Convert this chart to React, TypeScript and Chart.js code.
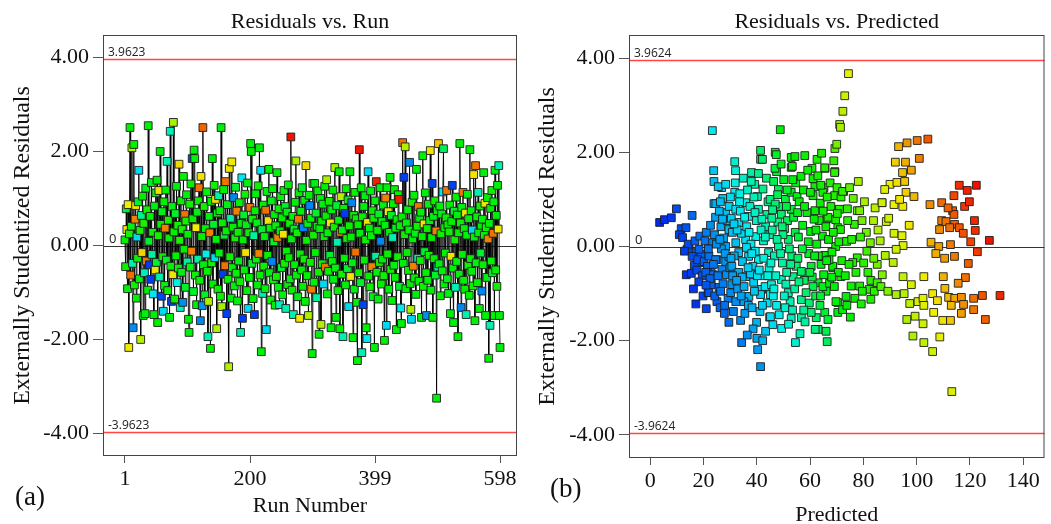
import React, { useEffect, useRef } from "react";
import { Chart, registerables } from "chart.js";
Chart.register(...registerables);

// ---------- Panel (a): residuals in run order ----------
const runResiduals: number[] = [
  0.12, -0.45, 0.78, 0.34, -0.92, 0.87, -2.17, 0.25, 2.51, -0.63,
  0.41, 2.08, -0.38, -1.75, 2.15, -0.84, 0.56, 0.85, -1.12, 0.18,
  -0.27, 0.93, 1.60, -0.71, 0.32, -2.00, 0.64, -0.15, 1.05, -1.49,
  0.47, -0.58, -1.45, 1.22, -0.33, 0.76, -0.95, 2.55, 0.09, -0.41,
  0.62, -0.72, 1.34, -0.19, 0.28, -1.03, -1.47, 0.84, -0.52, 1.12,
  -0.36, 1.39, -1.64, 0.21, 1.17, -0.67, 2.00, 0.45, -1.08, 0.72,
  -0.24, -1.40, 0.93, -0.85, 0.37, 1.18, -0.31, 1.79, -0.96, 0.54,
  0.16, -1.53, 2.43, -0.44, -1.19, 0.83, -0.62, 2.62, 0.29, -1.14,
  0.68, -0.22, 1.26, -0.79, 0.43, -0.48, 1.73, 0.11, -1.32, 0.95,
  -0.57, 0.34, -1.21, 1.47, -0.08, 0.66, -0.89, 0.52, 1.08, -0.35,
  0.24, -1.57, -1.85, 0.88, -0.46, 1.31, -0.12, 1.85, 0.57, -0.98,
  2.03, 1.85, -0.63, 0.38, -1.26, 0.71, -0.29, 0.95, 1.23, -0.74,
  -1.60, 1.47, 0.19, -1.28, 2.51, -0.41, 0.83, -1.05, 0.36, -0.18,
  1.14, -0.55, -1.94, -1.19, 0.62, 0.27, -2.19, 0.94, -0.37, 1.85,
  -0.82, 0.45, 1.28, -0.26, 0.98, 0.13, -1.77, 0.69, -0.93, 1.06,
  -0.16, 0.74, -1.08, 2.51, -1.30, 0.48, -0.61, 1.19, 0.22, -0.43,
  1.36, 0.31, -1.45, 0.87, -0.72, -2.58, 1.64, -0.24, 0.58, -1.12,
  1.78, -0.47, 0.39, 1.02, -0.86, 0.16, 1.24, -0.59, 0.73, -1.18,
  0.28, -0.33, 0.91, -0.77, -1.85, 0.47, 1.44, -1.55, 0.12, 0.65,
  -0.52, 1.09, -0.15, 0.44, -0.96, 1.33, -1.34, 0.27, -0.68, 0.81,
  2.17, 2.00, -0.38, 0.56, -1.13, 0.21, -1.47, 0.74, 1.10, -0.29,
  0.48, -0.84, 1.27, -0.17, 2.08, -0.63, 1.60, -2.26, 0.34, -1.02,
  0.86, -0.44, 0.19, -0.92, 0.75, -1.79, 1.15, -0.21, 0.53, 1.62,
  -0.58, 0.37, -1.16, 0.95, -0.34, 1.21, -0.73, 0.08, 0.66, -1.27,
  0.42, -0.66, 1.55, 0.17, -0.89, 0.78, -1.26, 0.31, 1.04, -0.47,
  0.59, -1.05, 0.24, 1.17, -0.38, 0.83, -1.34, -0.12, 0.71, -0.83,
  1.29, -0.26, 0.47, -0.71, 2.31, 0.14, -0.95, 0.62, -1.47, 0.35,
  -0.41, 0.92, 1.80, -0.63, 0.27, -1.09, 0.56, 1.12, -1.55, -0.18,
  0.73, -0.52, 1.23, -0.87, 0.38, -0.29, 0.96, -1.19, 1.70, 0.11,
  -0.64, 0.47, -1.49, 1.07, 0.85, -0.36, 0.58, -0.93, -2.30, 1.32,
  0.22, -0.78, 1.32, -0.15, 0.69, -1.11, 0.41, 1.16, -0.57, -1.89,
  0.36, 1.00, -1.68, 0.52, -0.39, 0.88, -0.82, 0.19, 1.26, -0.46,
  0.63, 1.40, -1.03, 0.27, -0.55, 0.94, -0.21, 0.48, -1.75, 0.76,
  -0.34, 1.18, -0.72, 0.39, 1.66, -0.48, -1.53, 0.85, 0.07, -0.96,
  0.54, 1.57, -1.77, 0.28, 1.04, -0.61, 0.33, -1.94, 0.79, -0.27,
  0.68, -0.84, 1.21, 0.15, -0.49, 0.97, -1.30, 0.42, 1.57, -0.66,
  0.18, 0.91, -0.37, -1.96, 0.64, -0.93, 1.13, -0.14, 0.57, -1.21,
  -2.45, 0.44, -0.58, 2.04, 0.26, -0.79, 1.23, -2.28, 0.61, -1.26,
  0.83, -0.31, 1.06, 0.12, -1.75, -1.98, 0.49, 1.57, -0.65, 0.37,
  -0.88, 1.16, 0.21, -0.45, 0.74, -1.09, 0.58, -2.17, 0.95, -0.23,
  1.36, -0.57, 0.32, -1.14, 0.67, -0.36, 1.23, 0.09, -0.82, 0.51,
  -0.29, 0.86, -0.64, -2.02, 0.43, 1.01, -1.70, 1.23, -0.18, 0.72,
  -0.93, 0.28, 1.45, -0.51, 0.64, -1.17, 0.17, 0.89, -0.42, 1.19,
  -0.68, 0.37, -1.79, 0.55, -0.24, 1.08, 0.98, -0.87, 0.42, -1.33,
  -1.66, 0.61, 2.19, -0.38, 1.45, 0.23, 2.10, -0.92, 0.48, -0.15,
  0.76, -0.53, 0.33, 1.77, -0.81, -1.36, -1.57, 0.92, 0.14, -0.44,
  1.07, -0.69, 0.26, -1.04, 1.62, 0.41, -0.27, 0.83, -0.76, 0.58,
  -0.32, 0.71, -1.53, 0.19, 1.91, -0.87, 0.46, -0.13, 1.12, -0.58,
  -1.49, 0.36, -0.74, 0.88, -0.21, 0.53, 2.02, -0.95, 0.17, 1.32,
  -1.53, 0.62, -0.28, 0.95, -0.63, 0.31, -3.25, 0.74, -0.46, 2.17,
  -0.39, 0.84, -1.07, 0.25, 0.67, -0.54, 1.14, 2.06, -0.82, 0.38,
  -0.16, 0.59, 1.17, -0.71, 0.44, -1.02, 0.29, 0.86, -1.45, -0.23,
  0.51, 1.28, -0.48, -1.64, 0.73, 0.12, -0.89, 1.03, -0.34, 0.65,
  -1.94, 0.27, -0.61, 2.17, 0.48, -1.32, 0.81, -0.19, 1.13, -0.74,
  0.36, -0.93, 0.69, -1.47, 0.22, 1.09, -0.42, 0.57, -1.06, 2.04,
  -0.28, 0.74, -0.55, 0.33, -0.86, 1.51, 0.18, -1.60, 1.70, -0.37,
  0.61, -0.79, 1.13, 0.27, -1.34, 0.84, -0.16, 0.43, -0.97, 0.56,
  -0.41, 1.55, 0.22, 0.90, -1.49, 0.38, -0.68, 1.02, 0.14, -2.40,
  0.47, -1.70, 0.79, -0.33, 1.17, -0.58, 0.26, 0.93, -1.49, 1.60,
  -0.52, 0.64, -0.87, 1.28, 0.35, 1.70, -1.49, -2.17,
];

// actual response of each run (drives the point colour)
const runActual: number[] = [
  66, 70, 58, 100, 62, 98, 99, 72, 64, 115,
  60, 88, 47, 25, 66, 70, 112, 100, 64, 36,
  68, 58, 36, 62, 72, 88, 50, 102, 66, 63,
  74, 45, 62, 60, 114, 70, 66, 64, 58, 12,
  66, 12, 60, 48, 70, 38, 64, 62, 100, 68,
  58, 64, 66, 72, 100, 46, 62, 68, 14, 60,
  70, 36, 66, 60, 112, 64, 58, 46, 68, 72,
  64, 62, 45, 68, 13, 60, 100, 86, 66, 70,
  58, 66, 62, 40, 70, 64, 101, 74, 46, 68,
  60, 72, 25, 64, 66, 114, 58, 70, 62, 48,
  66, 64, 62, 70, 60, 68, 112, 14, 66, 58,
  62, 64, 70, 98, 66, 60, 48, 68, 114, 64,
  24, 100, 66, 26, 116, 62, 70, 58, 66, 40,
  64, 68, 46, 87, 60, 112, 64, 66, 72, 62,
  66, 58, 70, 36, 101, 64, 88, 62, 68, 46,
  60, 64, 70, 62, 86, 68, 12, 66, 58, 114,
  114, 66, 13, 60, 64, 88, 100, 70, 48, 62,
  99, 64, 66, 24, 62, 70, 58, 66, 112, 64,
  68, 60, 64, 70, 46, 62, 38, 12, 66, 58,
  64, 70, 100, 62, 66, 60, 36, 68, 64, 114,
  62, 66, 58, 70, 64, 48, 12, 66, 62, 68,
  60, 64, 70, 112, 62, 66, 37, 64, 58, 46,
  66, 70, 62, 64, 114, 36, 60, 68, 100, 64,
  62, 66, 70, 60, 24, 64, 68, 58, 66, 62,
  64, 70, 62, 112, 60, 66, 45, 68, 64, 58,
  66, 62, 100, 64, 70, 58, 46, 66, 62, 68,
  64, 66, 70, 60, 128, 62, 68, 64, 46, 58,
  66, 62, 87, 64, 70, 60, 114, 66, 100, 68,
  62, 64, 58, 66, 24, 70, 62, 64, 101, 68,
  66, 60, 87, 64, 24, 68, 62, 112, 64, 62,
  70, 64, 62, 66, 58, 48, 64, 66, 70, 62,
  64, 62, 88, 66, 70, 60, 36, 68, 64, 114,
  66, 87, 62, 64, 68, 70, 58, 100, 64, 62,
  64, 66, 60, 70, 86, 62, 64, 58, 46, 68,
  62, 64, 66, 112, 88, 70, 60, 46, 64, 66,
  12, 64, 66, 70, 58, 62, 36, 68, 64, 100,
  66, 24, 62, 64, 70, 60, 68, 114, 66, 62,
  64, 66, 70, 128, 62, 58, 64, 46, 68, 13,
  62, 66, 60, 70, 64, 38, 100, 36, 66, 64,
  68, 62, 64, 112, 66, 60, 70, 64, 62, 48,
  126, 64, 66, 62, 58, 70, 64, 24, 66, 62,
  66, 60, 70, 64, 62, 112, 36, 64, 68, 100,
  62, 66, 64, 70, 58, 64, 46, 66, 62, 68,
  64, 60, 62, 66, 70, 64, 127, 58, 66, 38,
  64, 66, 114, 62, 12, 70, 88, 64, 60, 66,
  62, 68, 64, 24, 66, 87, 36, 70, 62, 112,
  64, 66, 60, 62, 64, 70, 46, 114, 66, 62,
  68, 64, 62, 66, 64, 70, 100, 58, 62, 66,
  25, 66, 64, 62, 70, 60, 100, 64, 66, 13,
  64, 62, 66, 70, 58, 112, 64, 66, 48, 104,
  62, 64, 66, 70, 60, 64, 38, 54, 62, 66,
  64, 68, 114, 62, 66, 60, 70, 64, 62, 100,
  66, 13, 64, 62, 58, 70, 46, 66, 64, 62,
  64, 66, 62, 64, 70, 24, 60, 66, 114, 64,
  62, 66, 100, 46, 64, 60, 70, 62, 66, 64,
  66, 62, 64, 36, 70, 100, 66, 64, 114, 60,
  64, 66, 46, 62, 64, 70, 58, 66, 24, 62,
  66, 64, 62, 100, 64, 70, 60, 66, 112, 64,
  62, 46, 66, 64, 70, 58, 114, 62, 64, 64,
  66, 62, 70, 64, 100, 46, 64, 62,
];

const runTicks = [1, 200, 399, 598];
const runLimit = 3.9623;

// ---------- Panel (b): residuals against predicted ----------
const predicted: number[] = [
  3.5, 5.3, 7.9, 9.8, 15.7, 11.6, 13.4, 10.9, 12.1, 13.8,
  13.5, 15.4, 14.6, 17.2, 19.1, 18.3, 15.7, 19.1, 16.5, 17.8,
  14.2, 16.8, 18.6, 12.8, 17.5, 19.5, 18.2, 16.2, 19.8, 17.1,
  21, 21.7, 25, 22.8, 25.8, 22.8, 20.2, 22, 25, 28.3,
  21, 23.2, 28.3, 21.4, 24.5, 26.9, 29.5, 22, 22.8, 27.3,
  23.9, 26.8, 23.9, 27.2, 24.5, 26.5, 29.5, 28.3, 23.3, 23.8,
  25.5, 28.3, 24.6, 20.5, 21.8, 23.5, 24.2, 26.2, 27.8, 29.2,
  20.8, 22.4, 25.4, 26.7, 27.5, 28.9, 29.6, 25.9, 22.6, 24.1,
  29.5, 26.4, 28.6, 23.7, 27.9, 29.9, 20.9, 24.8, 26.1, 28.1,
  33.9, 34.3, 39.9, 40, 40.3, 41.4, 42.2, 43.3, 37, 35.1,
  32.1, 30.2, 30.6, 30.6, 33.2, 35.8, 38.8, 41.8, 41.4, 45.1,
  31.7, 32, 31.7, 38, 41.4, 41.4, 39.2, 40.2, 35.8, 32.1,
  36.9, 33.2, 40.6, 43.3, 39.6, 35.8, 32.1, 33.2, 36.9, 40.6,
  44.4, 42.1, 40.6, 30.8, 31.5, 34.2, 36.2, 37.8, 38.5, 39.8,
  42.5, 43.8, 44.6, 31.2, 32.8, 34.6, 35.5, 36.8, 38.2, 39.1,
  41.2, 42.8, 43.9, 44.8, 30.4, 31.9, 33.6, 34.9, 36.5, 37.4,
  38.9, 42.3, 43.6, 44.2, 35.2, 37.6, 40.2, 42.6, 33.8, 36.1,
  30.9, 32.6, 34.5, 37.1, 39.4, 41.6, 43.1, 44.9, 38.6, 36.4,
  46, 49.3, 54.5, 52.9, 52.5, 51.8, 47.4, 45.1, 45.5, 49.2,
  53.6, 45, 46.3, 47.4, 46.9, 52.9, 52.9, 48.1, 50.7, 52.9,
  49.2, 48.1, 51.8, 54.4, 48.8, 47.3, 54.3, 53.3, 46.8, 52.9,
  55.1, 45.8, 46.6, 47.9, 49.6, 50.4, 51.2, 53.1, 54.2, 45.6,
  47.1, 48.6, 50.1, 51.5, 52.2, 53.8, 54.8, 46.2, 48.4, 50.6,
  51.9, 53.4, 49.8, 47.6, 50.9, 54.6, 45.3, 46.9, 49.1, 51.4,
  58, 60.7, 65.6, 69.3, 56.6, 61.1, 61.8, 65.2, 69.2, 61.1,
  61.8, 66.3, 70.4, 65.5, 69.2, 64.8, 64, 71, 66.7, 69.6,
  71.4, 69.6, 65.5, 68.5, 63, 66, 70.4, 70.4, 65.5, 66.7,
  63, 66, 66.4, 61.9, 62.3, 60.4, 56.7, 56.7, 56.7, 60.4,
  64.1, 68.5, 71.5, 69.7, 64.8, 61.1, 58.5, 55.6, 57.2, 58.8,
  59.5, 60.2, 62.5, 63.4, 64.6, 66.9, 67.8, 68.2, 70.8, 71.9,
  55.9, 57.5, 59.1, 62.6, 63.8, 66.4, 67.5, 68.9, 70.1, 71.6,
  55.4, 57.8, 59.7, 62.1, 63.7, 65.1, 67.3, 69.1, 58.1, 60.8,
  56.2, 59.3, 61.5, 63.1, 65.9, 67.1, 68.7, 70.6, 62.9, 57.1,
  69.3, 70, 71.1, 71.4, 72.3, 73, 74.4, 72.6, 72.2, 64.3,
  77.7, 74, 76.6, 73.7, 78.6, 81.1, 82.6, 77.7, 76, 88.2,
  85.2, 87.1, 82.8, 85.2, 78.6, 82.2, 75.4, 73.5, 79.6, 82.8,
  72.2, 83.8, 74.8, 76.2, 78.1, 79.5, 80.4, 75.6, 77.2, 80.1,
  81.7, 83.9, 86.3, 73.2, 74.6, 76.8, 79.2, 84.1, 86.6, 74.1,
  88.6, 87, 85.5, 84.4, 75.1, 73.8, 78.9, 81.3,
  92, 95.8, 94.7, 90, 92.6, 95.5, 96, 99, 101, 98,
  88, 87, 91.5, 94.8, 93.2, 96.4, 91.5, 94.5, 94.9, 92.3,
  94.9, 98, 92.3, 95.3, 97.4, 100.5, 102.4, 102.7, 102.7, 99.4,
  102.4, 102.7, 91.2, 89.5, 93.6, 97.2, 100.2, 89.2, 96.3, 98.6,
  105, 109.4, 116, 119, 122.4, 114, 118, 113.5, 114, 109.4,
  111, 114.2, 108.6, 112.4, 116, 117.5, 121.7, 122, 127.3, 120.3,
  122.8, 105.4, 108.3, 107.2, 112.7, 110.5, 114.2, 119.4, 110, 118.3,
  106, 110.6, 112, 114.3, 116.8, 117.6, 121.4, 124.7, 131.3, 121.4,
  125.8, 116.8, 106.4, 109.8, 112.7, 108.7, 106, 113.2, 104.2, 113,
  107.8, 119.8, 111.8, 115.6,
  26.3, 27.1, 30.1, 31.4, 33.5, 35.4, 37.9, 39.3, 41.9, 43.2,
  45.9, 47.8, 49.5, 51.1, 53.5, 55.3, 57.9, 60.1, 62.2, 64.9,
  30.3, 32.4, 34.1, 36.7, 38.1, 40.9, 42.1, 44.1, 46.4, 48.9,
  50.3, 52.7, 55.8, 57.6, 59.9, 61.7, 63.9, 66.2, 68.1, 70.2,
];

const predictedResiduals: number[] = [
  0.51, 0.57, 0.61, 0.8, 0.66, 0.38, 0.4, 0.25, 0.19, -0.06,
  -0.6, -0.57, -0.06, -0.13, -0.17, -0.06, -0.21, -0.34, -0.4, -0.28,
  0.05, 0.12, 0.22, -0.1, -0.5, -0.62, -0.75, -0.9, -1.05, -1.22,
  -1.32, -0.98, -1.17, -0.76, -0.87, -0.45, -0.32, -0.2, -0.28, -0.32,
  0.3, 0.08, 0, -0.42, -0.28, -0.49, -0.21, -0.98, -0.81, -0.79,
  1.38, 1.25, 0.91, 1.02, 0.62, 0.42, 0.36, 0.72, 2.46, 1.61,
  1.27, 1.32, 0.91, 0.12, -0.05, -0.6, -1.05, -1.3, -1.42, -1.1,
  -0.55, -0.68, -0.62, -0.05, 0.18, 0.55, 0.85, 0.75, 0.45, 0.25,
  -1.61, -0.95, -0.6, -0.38, -1.25, -0.45, -0.82, 0.05, 0.15, -0.15,
  -1.57, -2.04, -1.61, -1.95, -2.19, -2.55, -2, -1.8, -1.06, -1.17,
  -1.17, -0.98, -0.81, -0.42, -0.55, -0.64, -0.76, -0.91, -1.02, -1.02,
  1.8, 1.61, 1.15, 1.57, 2.04, 1.85, 1.32, 1.06, 0.93, 0.79,
  0.64, 0.51, 0.79, 0.42, 0.21, 0.15, 0.08, -0.13, -0.21, -0.28,
  -0.13, 1.85, 1.55, 0.3, -0.2, 0.28, 0.42, 0.05, -0.42, 0.55,
  0.12, 0.68, -0.45, -1.38, -0.9, -0.32, -1.42, -1.25, -1.3, -0.95,
  -1.38, -0.62, -1.2, -1.5, 0.6, 1.35, 1.12, 1.45, 1.2, 0.85,
  1.05, 1.22, 1.45, 0.95, -0.85, -0.58, -0.62, -0.25, 0.75, -0.02,
  -0.62, 0.35, -0.65, 0.3, -0.1, 0.35, -0.85, 0.25, -1.75, -1.88,
  -1.66, -1.74, -2.04, -1.53, -1.17, -0.98, -1.25, -1.49, -0.81, -0.7,
  -0.64, 1, 1.38, 1.59, 2, 1.89, 1.68, 1.21, 1, 0.79,
  0.68, 0, 0.15, 0.3, 2.48, 1.95, 1.91, 1.7, 1.66, 1.15,
  1.06, 0.35, -0.2, 0.52, -0.35, 0.38, -0.55, -0.2, -0.9, 0.6,
  -0.62, 0.85, 1.42, 0.55, -0.05, 0.62, -0.42, -1.05, -1.45, -1.3,
  -1.65, -1.35, 0.25, 0.15, -0.8, 1.35, -0.35, 0.9, 1.75, 1.2,
  1.93, 1.66, 1.66, 1.59, 1.49, 1.44, 1.27, 1.25, 1.08, 1.08,
  0.76, 0.59, 0.4, 1.67, 1.57, 1.15, 1.3, 0.79, 0.62, 0.57,
  0.36, 0, -0.19, -0.45, -0.77, -0.95, -1.4, -1.19, -1.4, -1.55,
  -1.76, -1.8, -2.02, -1.76, -1.51, -1.4, -1.51, -1.13, -0.53, -0.42,
  -0.38, -0.42, -0.64, -1.17, -0.85, -0.85, -0.98, 0.2, 0.45, 0.72,
  -0.15, 0.32, 0.05, 0.55, 0.22, 0.15, 0.85, -0.12, 0.1, -0.3,
  0.95, 1.2, 1.62, 1.85, 0.92, 1.05, 1.35, 1.82, 1.25, 1.05,
  -0.25, -0.72, -1.2, -1.05, -1.25, -0.6, -0.78, -0.85, -1.6, -0.65,
  -1.85, 0.1, 0.58, -0.2, 0.42, -0.28, 0.3, -0.55, 1.5, -0.05,
  2.08, 2.17, 2.59, 2.53, 2.87, 3.2, 3.67, 1.17, 1.17, 1.98,
  0.76, 0.8, 0.47, 0.11, 0.76, 0.3, 0.08, -0.24, -0.34, -0.19,
  -0.38, -0.6, -0.72, -0.77, -0.84, -0.91, -0.84, -1.06, -0.95, -1.12,
  -1.34, 0.55, 1.25, 1.02, 1.38, 0.55, 0.95, 0.15, -0.55, -0.35,
  -0.55, -0.25, 0.12, -0.62, -0.38, -1.1, -1.22, -0.95, -0.85, 0.55,
  0.53, 0.93, 0.35, 0.82, -1.5, -1.25, 0.2, -0.1,
  1.79, 1.79, 1.57, 1.32, 1.36, 1.38, 1.15, 1.06, 1.87, 1.62,
  1.21, 0.93, 0.89, 0.85, 2.12, 2.2, 0.28, 0.23, 0.02, -0.06,
  -0.64, -0.81, -1.02, -1, -1.21, -1.17, -1.1, -1.25, -0.64, -1.48,
  -1.64, -2.04, -0.34, 0.6, 1, 0.45, 2.25, -0.95, -1.55, -1.9,
  0.89, 0.93, 1.3, 1.19, 1.3, 1.08, 0.85, 0.76, 0.68, 0.55,
  0.53, 0.47, 0.36, 0.4, 0.4, 0.28, 0.55, 0.34, 0.13, 0.1,
  -0.11, 0.09, 0, -0.15, 0.04, -0.25, -0.21, -0.36, -0.64, -0.66,
  -1, -0.89, -1.08, -1.1, -1.08, -1.23, -1.1, -1.04, -1.04, -1.34,
  -1.55, -1.42, -1.4, -1.57, -1.57, -1.92, -2.23, -3.08, 2.28, -1.25,
  -1.15, 0.95, 0.82, -0.78,
  0.95, 0.58, 1.05, 0.48, 0.95, 0.62, 1.38, 0.72, 0.58, 0.2,
  0.78, 1.1, 0.42, 0.85, 1.42, 0.72, 0.85, 1.15, 0.35, 0.75,
  -0.25, -0.72, -1.05, -0.45, -0.15, -0.5, -1.25, -0.62, -0.9, -0.15,
  -1.05, -0.38, -0.75, -1.35, -0.55, -0.2, -1.05, -0.3, -0.65, 0.7,
];

const predictedTicks = [0, 20, 40, 60, 80, 100, 120, 140];
const predictedLimit = 3.9624;
const residualTicks = [-4, -2, 0, 2, 4];
// residual -> response units, used to colour panel (b) by actual response
const residualScale = 6;

// colour scale: response value -> hue (blue ... red)
const hueStops: [number, number][] = [
  [0, 235], [12, 225], [25, 205], [38, 182], [50, 155], [60, 125],
  [80, 108], [85, 80], [100, 57], [112, 32], [128, 5], [140, 0],
];

function colorFor(v: number): string {
  let h = hueStops[0][1];
  if (v >= hueStops[hueStops.length - 1][0]) h = hueStops[hueStops.length - 1][1];
  else {
    for (let i = 0; i < hueStops.length - 1; i++) {
      const [v0, h0] = hueStops[i];
      const [v1, h1] = hueStops[i + 1];
      if (v >= v0 && v <= v1) {
        h = h0 + ((h1 - h0) * (v - v0)) / (v1 - v0);
        break;
      }
    }
  }
  return `hsl(${h.toFixed(1)}, 100%, 47%)`;
}

const SERIF = "'Liberation Serif', 'Times New Roman', serif";
const SANS = "'Open Sans', 'DejaVu Sans', sans-serif";

type Spec = {
  points: { x: number; y: number }[];
  colors: string[];
  showLine: boolean;
  xMin: number;
  xMax: number;
  yLim: number;
  xTicks: number[];
  limit: number;
  padRight: number;
  xHeight: number;
  yWidth: number;
  title: string;
  xTitle: string;
  xTitleBaseline: number;
  panel: string;
  panelX: number;
  panelBaseline: number;
  yTitleX: number;
};

function decor(spec: Spec) {
  return {
    id: "decor",
    beforeDatasetsDraw(chart: any) {
      const { ctx, chartArea: a, scales } = chart;
      const ys = scales.y;
      ctx.save();
      const y0 = Math.round(ys.getPixelForValue(0)) + 0.5;
      ctx.strokeStyle = "#333";
      ctx.lineWidth = 1;
      ctx.beginPath();
      ctx.moveTo(a.left, y0);
      ctx.lineTo(a.right, y0);
      ctx.stroke();
      const yTop = Math.round(ys.getPixelForValue(spec.limit)) + 0.5;
      const yBot = Math.round(ys.getPixelForValue(-spec.limit)) + 0.5;
      ctx.strokeStyle = "#ff4545";
      ctx.lineWidth = 1.3;
      for (const yy of [yTop, yBot]) {
        ctx.beginPath();
        ctx.moveTo(a.left, yy);
        ctx.lineTo(a.right, yy);
        ctx.stroke();
      }
      ctx.fillStyle = "#222";
      ctx.font = `12px ${SANS}`;
      ctx.textAlign = "left";
      ctx.textBaseline = "alphabetic";
      ctx.fillText(spec.limit.toFixed(4), a.left + 5, yTop - 4);
      ctx.fillText((-spec.limit).toFixed(4), a.left + 5, yBot - 4);
      ctx.font = `13px ${SANS}`;
      ctx.fillText("0", a.left + 6, y0 - 4);
      ctx.restore();
    },
    afterDraw(chart: any) {
      const { ctx, chartArea: a } = chart;
      ctx.save();
      ctx.strokeStyle = "#444";
      ctx.lineWidth = 1;
      ctx.strokeRect(a.left + 0.5, a.top + 0.5, a.right - a.left - 1, a.bottom - a.top - 1);
      const cx = (a.left + a.right) / 2;
      ctx.fillStyle = "#111";
      ctx.textAlign = "center";
      ctx.textBaseline = "alphabetic";
      ctx.font = `22px ${SERIF}`;
      ctx.fillText(spec.title, cx, 28);
      ctx.fillText(spec.xTitle, cx, spec.xTitleBaseline);
      ctx.save();
      ctx.translate(spec.yTitleX, (a.top + a.bottom) / 2);
      ctx.rotate(-Math.PI / 2);
      ctx.textBaseline = "middle";
      ctx.font = `24px ${SERIF}`;
      ctx.fillText("Externally Studentized Residuals", 0, 0);
      ctx.restore();
      ctx.textAlign = "left";
      ctx.font = `27px ${SERIF}`;
      ctx.fillText(spec.panel, spec.panelX, spec.panelBaseline);
      ctx.restore();
    },
  };
}

function buildChart(canvas: HTMLCanvasElement, spec: Spec) {
  const tickFont = { family: SERIF, size: 22 };
  return new Chart(canvas, {
    type: "scatter",
    data: {
      datasets: [
        {
          data: spec.points,
          showLine: spec.showLine,
          borderColor: "rgba(0,0,0,0.9)",
          borderWidth: 1,
          pointBackgroundColor: spec.colors,
          pointBorderColor: "rgba(30,30,30,0.9)",
          pointBorderWidth: 1,
          pointStyle: "rect",
          pointRadius: 5.5,
          pointHoverRadius: 5.5,
        } as any,
      ],
    },
    options: {
      responsive: false,
      animation: false,
      devicePixelRatio: 1,
      events: [],
      layout: { padding: { left: 0, right: spec.padRight, top: 35, bottom: 0 } },
      plugins: {
        legend: { display: false },
        tooltip: { enabled: false },
        title: { display: false },
      },
      scales: {
        x: {
          type: "linear",
          min: spec.xMin,
          max: spec.xMax,
          afterFit: (s: any) => {
            s.height = spec.xHeight;
          },
          afterBuildTicks: (s: any) => {
            s.ticks = spec.xTicks.map((v) => ({ value: v }));
          },
          ticks: {
            font: tickFont,
            color: "#111",
            padding: 3,
            autoSkip: false,
            maxRotation: 0,
            callback: (v: any) => String(v),
          },
          grid: { drawOnChartArea: false, drawTicks: true, tickLength: 7, color: "#555" },
          border: { display: false },
        },
        y: {
          type: "linear",
          min: -spec.yLim,
          max: spec.yLim,
          afterFit: (s: any) => {
            s.width = spec.yWidth;
          },
          afterBuildTicks: (s: any) => {
            s.ticks = residualTicks.map((v) => ({ value: v }));
          },
          ticks: {
            font: tickFont,
            color: "#111",
            padding: 4,
            autoSkip: false,
            callback: (v: any) => Number(v).toFixed(2),
          },
          grid: { drawOnChartArea: false, drawTicks: true, tickLength: 10, color: "#555" },
          border: { display: false },
        },
      },
    } as any,
    plugins: [decor(spec)],
  });
}

export default function App() {
  const leftRef = useRef<HTMLCanvasElement>(null);
  const rightRef = useRef<HTMLCanvasElement>(null);

  useEffect(() => {
    const leftSpec: Spec = {
      points: runResiduals.map((r, i) => ({ x: i + 1, y: r })),
      colors: runActual.map((v) => colorFor(v)),
      showLine: true,
      xMin: -34,
      xMax: 625,
      yLim: 4.48,
      xTicks: runTicks,
      limit: runLimit,
      padRight: 8,
      xHeight: 68,
      yWidth: 103,
      title: "Residuals vs. Run",
      xTitle: "Run Number",
      xTitleBaseline: 512,
      panel: "(a)",
      panelX: 15,
      panelBaseline: 505,
      yTitleX: 23,
    };
    const rightSpec: Spec = {
      points: predicted.map((p, i) => ({ x: p, y: predictedResiduals[i] })),
      colors: predicted.map((p, i) => colorFor(p + residualScale * predictedResiduals[i])),
      showLine: false,
      xMin: -8,
      xMax: 148,
      yLim: 4.49,
      xTicks: predictedTicks,
      limit: predictedLimit,
      padRight: 1,
      xHeight: 66,
      yWidth: 104,
      title: "Residuals vs. Predicted",
      xTitle: "Predicted",
      xTitleBaseline: 521,
      panel: "(b)",
      panelX: 25,
      panelBaseline: 497,
      yTitleX: 23,
    };
    const c1 = buildChart(leftRef.current!, leftSpec);
    const c2 = buildChart(rightRef.current!, rightSpec);
    return () => {
      c1.destroy();
      c2.destroy();
    };
  }, []);

  return (
    <div style={{ position: "absolute", left: 0, top: 0, width: 1051, height: 524, background: "#fff" }}>
      <canvas ref={leftRef} width={525} height={524} style={{ position: "absolute", left: 0, top: 0 }} />
      <canvas ref={rightRef} width={526} height={524} style={{ position: "absolute", left: 525, top: 0 }} />
    </div>
  );
}
